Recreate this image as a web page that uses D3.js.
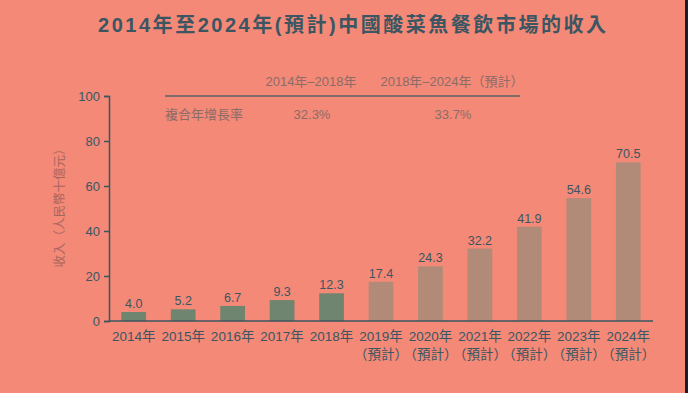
<!DOCTYPE html>
<html>
<head>
<meta charset="utf-8">
<script src="https://cdn.jsdelivr.net/npm/d3@7"></script>
<style>
  body { margin: 0; background: #f38976; }
  svg { display: block; font-family: "Liberation Sans", Arial, "Noto Sans CJK TC", sans-serif; }
</style>
</head>
<body>
<div id="chart"></div>
<script>
// 年份、數值、是否預計
const years = ["2014", "2015", "2016", "2017", "2018", "2019", "2020", "2021", "2022", "2023", "2024"];
const revenue = [4.0, 5.2, 6.7, 9.3, 12.3, 17.4, 24.3, 32.2, 41.9, 54.6, 70.5];
const forecast = [false, false, false, false, false, true, true, true, true, true, true];
const yTicks = [0, 20, 40, 60, 80, 100];
const cagrPeriods = ["2014年–2018年", "2018年–2024年（預計）"];
const cagrValues = ["32.3%", "33.7%"];

const W = 688, H = 393;
const dark = "#3b5662";
const muted = "#8c6c68";

const svg = d3.select("#chart").append("svg").attr("width", W).attr("height", H);

svg.append("rect").attr("width", W).attr("height", H).attr("fill", "#f38976");
svg.append("rect").attr("x", 685).attr("width", 3).attr("height", H).attr("fill", "#1d1c24");

// 標題
svg.append("text")
  .attr("x", 352).attr("y", 32)
  .attr("text-anchor", "middle")
  .attr("font-size", 20).attr("font-weight", "bold")
  .attr("textLength", 508).attr("lengthAdjust", "spacing")
  .attr("fill", dark)
  .text("2014年至2024年(預計)中國酸菜魚餐飲市場的收入");

const x = d3.scaleBand().domain(years).range([109, 653]).paddingInner(0.5).paddingOuter(0.25);
const y = d3.scaleLinear().domain([0, 100]).range([321, 96]);

// y 軸
const yAxis = svg.append("g")
  .attr("transform", "translate(109,0)")
  .call(d3.axisLeft(y).tickValues(yTicks).tickSize(5).tickPadding(4));
yAxis.select(".domain").attr("stroke", dark).attr("stroke-width", 1.5);
yAxis.selectAll(".tick line").attr("stroke", dark).attr("stroke-width", 1.5);
yAxis.selectAll(".tick text").attr("fill", dark).attr("font-size", 13).attr("font-family", "Liberation Sans, Arial, sans-serif");

svg.append("text")
  .attr("transform", "translate(64,205) rotate(-90)")
  .attr("text-anchor", "middle")
  .attr("font-size", 12.5)
  .attr("fill", "#a8655f")
  .text("收入（人民幣十億元）");

// 柱
svg.append("g").selectAll("rect")
  .data(years)
  .join("rect")
  .attr("x", (d) => x(d))
  .attr("y", (d, i) => y(revenue[i]))
  .attr("width", x.bandwidth())
  .attr("height", (d, i) => y(0) - y(revenue[i]))
  .attr("fill", (d, i) => (forecast[i] ? "#b18b78" : "#6f8570"));

// 數值標籤
svg.append("g").selectAll("text")
  .data(years)
  .join("text")
  .attr("x", (d) => x(d) + x.bandwidth() / 2)
  .attr("y", (d, i) => y(revenue[i]) - 4)
  .attr("text-anchor", "middle")
  .attr("font-size", 12.5)
  .attr("fill", dark)
  .text((d, i) => revenue[i].toFixed(1));

// x 軸
svg.append("line")
  .attr("x1", 109).attr("x2", 653)
  .attr("y1", y(0)).attr("y2", y(0))
  .attr("stroke", dark).attr("stroke-width", 1.5);

const xl = svg.append("g").selectAll("g")
  .data(years)
  .join("g")
  .attr("transform", (d) => `translate(${x(d) + x.bandwidth() / 2},0)`);
xl.append("text")
  .attr("y", 341)
  .attr("text-anchor", "middle")
  .attr("font-size", 13.5)
  .attr("fill", dark)
  .text((d) => d + "年");
xl.filter((d, i) => forecast[i]).append("text")
  .attr("y", 359)
  .attr("text-anchor", "middle")
  .attr("font-size", 13.5)
  .attr("fill", dark)
  .text("（預計）");

// 複合年增長率表
const colX = [311, 452];
svg.append("g").selectAll("text")
  .data(cagrPeriods)
  .join("text")
  .attr("x", (d, i) => colX[i]).attr("y", 86)
  .attr("text-anchor", "middle")
  .attr("font-size", 13)
  .attr("fill", muted)
  .text((d) => d);
svg.append("line")
  .attr("x1", 165).attr("x2", 520)
  .attr("y1", 96).attr("y2", 96)
  .attr("stroke", "#7f6b6a").attr("stroke-width", 2);
svg.append("text")
  .attr("x", 165).attr("y", 119)
  .attr("font-size", 13)
  .attr("fill", muted)
  .text("複合年增長率");
svg.append("g").selectAll("text")
  .data(cagrValues)
  .join("text")
  .attr("x", (d, i) => colX[i] + 1).attr("y", 119)
  .attr("text-anchor", "middle")
  .attr("font-size", 13)
  .attr("fill", muted)
  .text((d) => d);
</script>
</body>
</html>
